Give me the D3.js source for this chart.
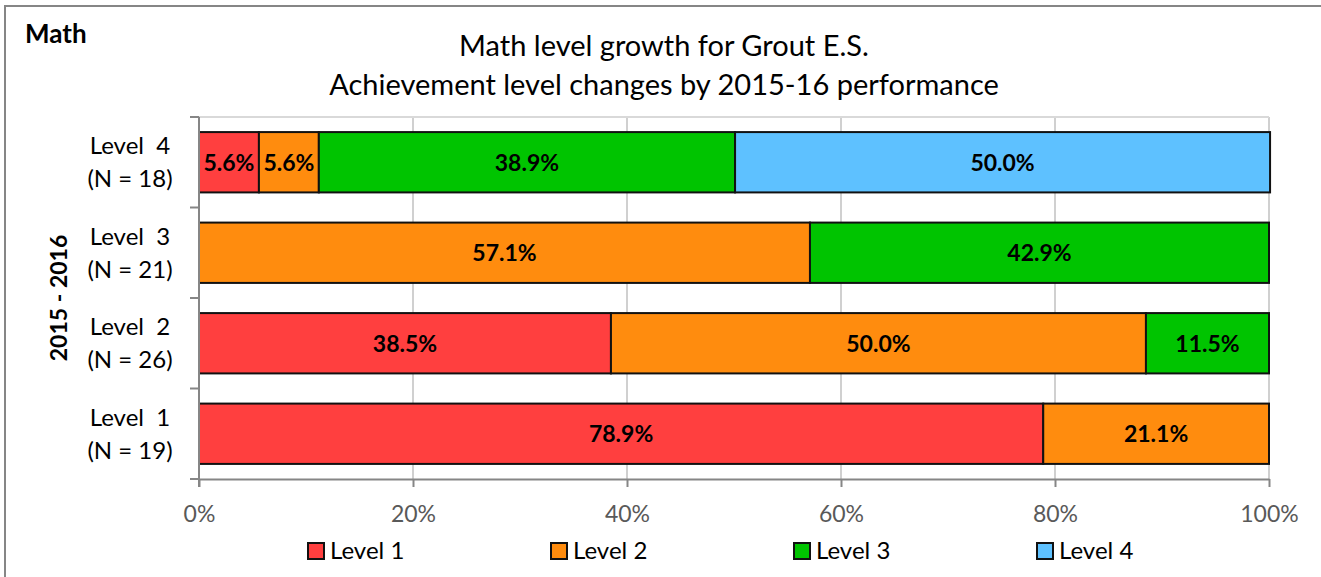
<!DOCTYPE html>
<html>
<head>
<meta charset="utf-8">
<script src="https://cdn.jsdelivr.net/npm/d3@7"></script>
<style>
  body { margin: 0; background: #fff; }
  svg { display: block; font-family: Lato, "Open Sans", sans-serif; }
</style>
</head>
<body>
<svg id="chart" width="1321" height="577"></svg>
<script>
// rows, top to bottom
const categories = ["Level 4", "Level 3", "Level 2", "Level 1"];
const counts = [18, 21, 26, 19];
const seriesNames = ["Level 1", "Level 2", "Level 3", "Level 4"];
const colors = ["#ff3f3f", "#ff8c0e", "#00c400", "#5ec1ff"];

// percent per series, in the order of categories
const level1 = [5.6, 0, 38.5, 78.9];
const level2 = [5.6, 57.1, 50.0, 21.1];
const level3 = [38.9, 42.9, 11.5, 0];
const level4 = [50.0, 0, 0, 0];
const xTicks = [0, 20, 40, 60, 80, 100];

const series = [level1, level2, level3, level4];

const svg = d3.select("#chart");
const W = 1321, H = 577;
const m = {left: 199, right: 52, top: 117, bottom: 98};

// outer chart border (runs off right and bottom like the screenshot)
svg.append("rect")
    .attr("x", 5).attr("y", 6).attr("width", W).attr("height", H)
    .attr("fill", "none").attr("stroke", "#868686").attr("stroke-width", 2);

svg.append("text").attr("x", 25).attr("y", 43)
    .attr("font-size", 26).attr("font-weight", "bold").text("Math");

svg.append("text").attr("x", 664).attr("y", 56)
    .attr("text-anchor", "middle").attr("font-size", 29)
    .text("Math level growth for Grout E.S.");
svg.append("text").attr("x", 664).attr("y", 95)
    .attr("text-anchor", "middle").attr("font-size", 29)
    .text("Achievement level changes by 2015-16 performance");

const x = d3.scaleLinear().domain([0, 100]).range([m.left, W - m.right]);
const y = d3.scaleBand().domain(categories).range([m.top, H - m.bottom]).paddingInner(1/3).paddingOuter(1/6);
const yb = d3.scaleBand().domain(categories).range([m.top, H - m.bottom]);

// gridlines
svg.append("g").selectAll("line").data(xTicks.slice(1)).join("line")
    .attr("x1", d => x(d)).attr("x2", d => x(d))
    .attr("y1", m.top).attr("y2", H - m.bottom)
    .attr("stroke", "#d0d0d0").attr("stroke-width", 2);
svg.append("line")
    .attr("x1", m.left).attr("x2", x(100)).attr("y1", m.top).attr("y2", m.top)
    .attr("stroke", "#d9d9d9").attr("stroke-width", 2);

// stacked bars
const stacked = categories.map((c, i) => {
  let acc = 0;
  return series.map((s, k) => {
    const seg = {cat: c, k: k, v: s[i], x0: acc, x1: acc + s[i]};
    acc += s[i];
    return seg;
  }).filter(d => d.v > 0);
}).flat();

svg.append("g").selectAll("rect").data(stacked).join("rect")
    .attr("x", d => x(d.x0)).attr("width", d => x(d.x1) - x(d.x0))
    .attr("y", d => y(d.cat)).attr("height", y.bandwidth())
    .attr("fill", d => colors[d.k])
    .attr("stroke", "#111").attr("stroke-width", 2);

svg.append("g").selectAll("text").data(stacked).join("text")
    .attr("x", d => (x(d.x0) + x(d.x1)) / 2)
    .attr("y", d => y(d.cat) + y.bandwidth() / 2)
    .attr("dy", "0.36em").attr("text-anchor", "middle")
    .attr("font-size", 23).attr("font-weight", "bold")
    .text(d => d.v.toFixed(1) + "%");

// axes
const xAxis = svg.append("g").attr("transform", `translate(0,${H - m.bottom})`)
    .call(d3.axisBottom(x).tickValues(xTicks).tickFormat(d => d + "%").tickSize(8).tickSizeOuter(0).tickPadding(19));
xAxis.select(".domain").attr("stroke", "#868686").attr("stroke-width", 2);
xAxis.selectAll(".tick line").attr("stroke", "#868686").attr("stroke-width", 2);
xAxis.selectAll("text").attr("font-size", 23).attr("fill", "#595959")
    .attr("font-family", "Lato, 'Open Sans', sans-serif");

// y axis line and ticks at category boundaries
svg.append("line").attr("x1", m.left).attr("x2", m.left)
    .attr("y1", m.top).attr("y2", H - m.bottom + 8)
    .attr("stroke", "#868686").attr("stroke-width", 2);
const bounds = categories.map(c => yb(c)).concat([H - m.bottom]);
svg.append("g").selectAll("line").data(bounds).join("line")
    .attr("x1", m.left - 9).attr("x2", m.left)
    .attr("y1", d => d).attr("y2", d => d)
    .attr("stroke", "#868686").attr("stroke-width", 2);

const catLabels = svg.append("g").selectAll("text").data(categories).join("text")
    .attr("text-anchor", "middle").attr("font-size", 24);
catLabels.append("tspan").attr("x", 130)
    .attr("y", d => yb(d) + yb.bandwidth() / 2 - 8)
    .text(d => d.replace(" ", "  ")).attr("xml:space", "preserve").style("white-space", "pre");
catLabels.append("tspan").attr("x", 130)
    .attr("y", d => yb(d) + yb.bandwidth() / 2 + 25)
    .text((d, i) => `(N = ${counts[i]})`);

svg.append("text")
    .attr("transform", `translate(67,${(m.top + H - m.bottom) / 2}) rotate(-90)`)
    .attr("text-anchor", "middle").attr("font-size", 23).attr("font-weight", "bold")
    .text("2015 - 2016");

// legend
const lx = d3.scalePoint().domain(seriesNames).range([308, 1037]);
const leg = svg.append("g").selectAll("g").data(seriesNames).join("g")
    .attr("transform", d => `translate(${lx(d)},551)`);
leg.append("rect").attr("x", 0).attr("y", -8).attr("width", 16).attr("height", 16)
    .attr("fill", (d, i) => colors[i]).attr("stroke", "#111").attr("stroke-width", 2);
leg.append("text").attr("x", 22).attr("y", 8).attr("font-size", 24).text(d => d);
</script>
</body>
</html>
